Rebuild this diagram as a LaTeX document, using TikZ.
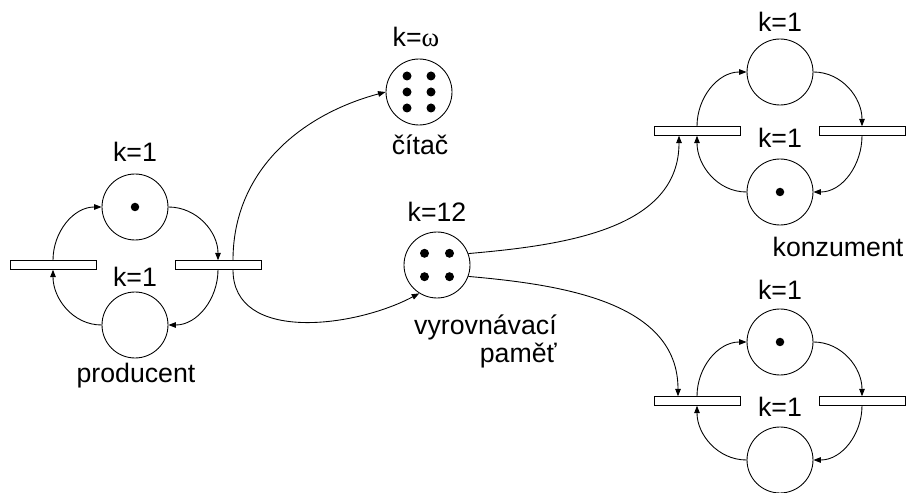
\documentclass[tikz,border=0pt]{standalone}
\usepackage{fontspec}
\setmainfont{Liberation Sans}
\newfontfamily\omegafont{Liberation Serif}
\usetikzlibrary{arrows.meta,calc}

\begin{document}
\begin{tikzpicture}[x=0.02cm, y=0.02cm, line width=0.5pt,
    every node/.style={font=\fontsize{15.2}{18}\selectfont},
    place/.style={draw, circle, minimum size=1.32cm, inner sep=0pt},
    trans/.style={draw, rectangle, minimum width=1.72cm, minimum height=0.17cm, inner sep=0pt},
    arc/.style={-{Triangle[length=4.3pt, width=3.2pt]}}]
    \useasboundingbox (0,0) rectangle (907,-493);

    % Producent
    \node[place] (pA) at (135,-207) {};
    \node[place] (pB) at (135,-325) {};
    \node[trans] (tA) at (53,-265) {};
    \node[trans] (tB) at (218,-265) {};
    \fill (pA) circle (0.085cm);
    \node[anchor=base] (kA) at (135,-161.7) {k=1};
    \node[anchor=base] (kB) at (135,-286.7) {k=1};
    \node[anchor=base] (prod) at (136,-383) {producent};

    \draw[arc] (tA.north) to[out=90, in=180] (pA.west);
    \draw[arc] (pA.east) to[out=0, in=90] (tB.north);
    \draw[arc] (tB.south) to[out=-90, in=0] (pB.east);
    \draw[arc] (pB.west) to[out=180, in=-90] (tA.south);

    % Counter (k = omega)
    \node[place] (cit) at (419,-92) {};
    \fill ($(cit)+(-12,16)$) circle (0.09cm);
    \fill ($(cit)+(12,16)$) circle (0.09cm);
    \fill ($(cit)+(-12,0)$) circle (0.09cm);
    \fill ($(cit)+(12,0)$) circle (0.09cm);
    \fill ($(cit)+(-12,-16)$) circle (0.09cm);
    \fill ($(cit)+(12,-16)$) circle (0.09cm);
    \node[anchor=base] (kcit) at (416,-46.7) {k={\omegafont ω}};
    \node[anchor=base] (citlbl) at (420,-155) {čítač};

    % Buffer (k = 12)
    \node[place] (buf) at (437,-265) {};
    \fill ($(buf)+(-12.5,11.7)$) circle (0.09cm);
    \fill ($(buf)+(12.5,11.7)$) circle (0.09cm);
    \fill ($(buf)+(-12.5,-11.7)$) circle (0.09cm);
    \fill ($(buf)+(12.5,-11.7)$) circle (0.09cm);
    \node[anchor=base] (kbuf) at (437,-221.7) {k=12};
    \node[anchor=base east] (bufA) at (563,-335) {vyrovnávací};
    \node[anchor=base east] (bufB) at (563,-363) {paměť};

    \draw[arc] ([xshift=0.3cm]tB.north) to[out=90, in=195] (cit.west);
    \draw[arc] ([xshift=0.3cm]tB.south) to[out=-90, in=208] (buf.238);

    % Konzument (top)
    \node[place] (cA) at (780,-72) {};
    \node[place] (cB) at (780,-192) {};
    \node[trans] (sA) at (697,-131) {};
    \node[trans] (sB) at (862,-131) {};
    \fill (cB) circle (0.085cm);
    \node[anchor=base] (kcA) at (780,-31.7) {k=1};
    \node[anchor=base] (kcB) at (780,-148) {k=1};
    \node[anchor=base] (kons) at (838,-256.7) {konzument};

    \draw[arc] (sA.north) to[out=90, in=180] (cA.west);
    \draw[arc] (cA.east) to[out=0, in=90] (sB.north);
    \draw[arc] (sB.south) to[out=-90, in=0] (cB.east);
    \draw[arc] (cB.west) to[out=180, in=-90] (sA.south);

    % Konzument (bottom)
    \node[place] (dA) at (780,-342) {};
    \node[place] (dB) at (780,-460) {};
    \node[trans] (uA) at (697,-401) {};
    \node[trans] (uB) at (862,-401) {};
    \fill (dA) circle (0.085cm);
    \node[anchor=base] (kdA) at (780,-299.3) {k=1};
    \node[anchor=base] (kdB) at (780,-416.7) {k=1};

    \draw[arc] (uA.north) to[out=90, in=180] (dA.west);
    \draw[arc] (dA.east) to[out=0, in=90] (uB.north);
    \draw[arc] (uB.south) to[out=-90, in=0] (dB.east);
    \draw[arc] (dB.west) to[out=180, in=-90] (uA.south);

    % Buffer to both consumers
    \draw[arc] (buf.20) to[out=5, in=-90] ([xshift=-0.36cm]sA.south);
    \draw[arc] (buf.-20) to[out=-5, in=90] ([xshift=-0.38cm]uA.north);
\end{tikzpicture}
\end{document}
